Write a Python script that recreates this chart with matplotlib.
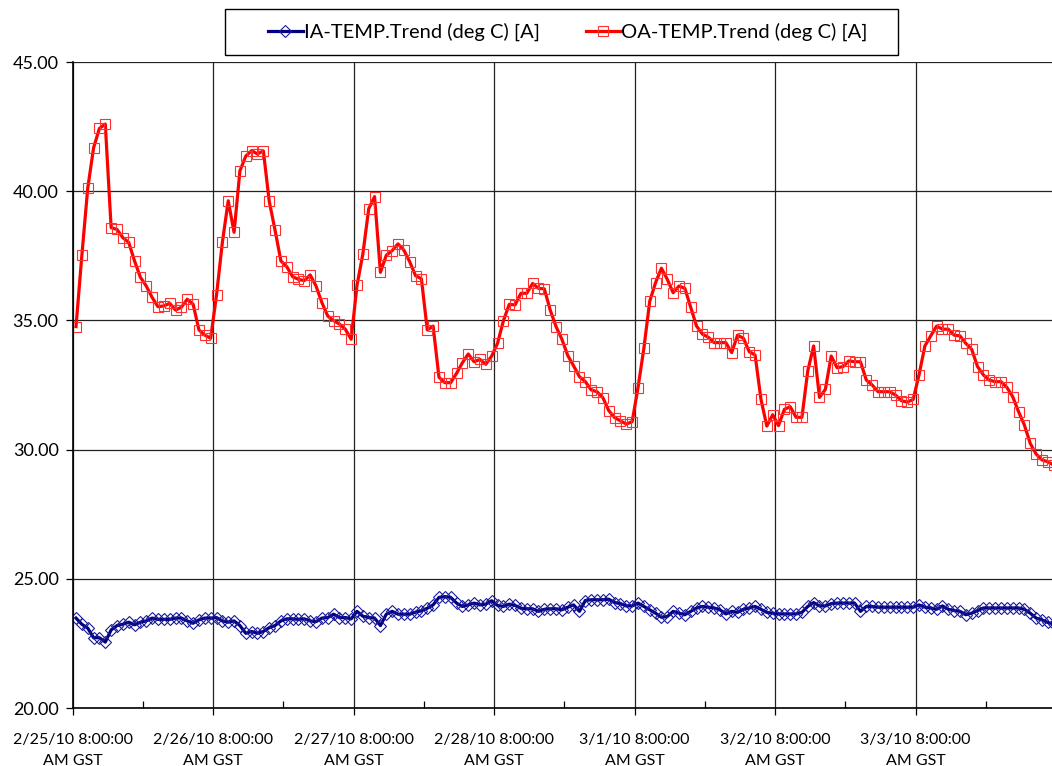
import matplotlib
matplotlib.use("Agg")
import matplotlib.pyplot as plt
import pandas as pd
from matplotlib.patches import Rectangle

# hourly readings, first sample at 2/25/10 8:36 AM
start_time = "2010-02-25 08:36"

ia_temp = [
    23.48, 23.24, 23.09, 22.72, 22.72, 22.55, 23.02, 23.19, 23.24, 23.32, 23.22, 23.32,
    23.37, 23.48, 23.43, 23.43, 23.43, 23.48, 23.48, 23.37, 23.28, 23.41, 23.48, 23.48,
    23.50, 23.37, 23.32, 23.37, 23.19, 22.89, 22.96, 22.89, 22.96, 23.11, 23.19, 23.37,
    23.45, 23.45, 23.43, 23.45, 23.37, 23.34, 23.48, 23.50, 23.63, 23.50, 23.50, 23.45,
    23.74, 23.55, 23.50, 23.48, 23.19, 23.63, 23.74, 23.63, 23.63, 23.63, 23.71, 23.76,
    23.86, 23.99, 24.28, 24.31, 24.28, 24.06, 23.93, 23.99, 24.06, 23.99, 24.02, 24.15,
    23.97, 23.93, 24.02, 23.97, 23.86, 23.84, 23.84, 23.74, 23.82, 23.84, 23.84, 23.80,
    23.90, 23.99, 23.74, 24.16, 24.19, 24.19, 24.19, 24.21, 24.08, 24.04, 23.95, 23.95,
    24.06, 23.93, 23.80, 23.67, 23.51, 23.54, 23.74, 23.67, 23.61, 23.74, 23.87, 23.93,
    23.90, 23.87, 23.80, 23.64, 23.74, 23.70, 23.82, 23.87, 23.93, 23.82, 23.70, 23.67,
    23.64, 23.64, 23.64, 23.64, 23.70, 23.93, 24.08, 23.95, 23.95, 24.04, 24.06, 24.06,
    24.06, 24.06, 23.74, 23.93, 23.93, 23.90, 23.90, 23.90, 23.90, 23.90, 23.90, 23.90,
    23.99, 23.90, 23.87, 23.82, 23.95, 23.82, 23.77, 23.74, 23.61, 23.67, 23.77, 23.87,
    23.87, 23.87, 23.87, 23.87, 23.87, 23.87, 23.82, 23.67, 23.48, 23.41, 23.31, 23.25,
]

oa_temp = [
    34.76, 37.52, 40.11, 41.68, 42.43, 42.60, 38.59, 38.52, 38.20, 38.02, 37.30, 36.67,
    36.33, 35.89, 35.53, 35.56, 35.66, 35.40, 35.51, 35.82, 35.63, 34.63, 34.43, 34.31,
    35.98, 38.02, 39.63, 38.41, 40.79, 41.36, 41.57, 41.44, 41.56, 39.62, 38.49, 37.30,
    37.08, 36.69, 36.59, 36.54, 36.76, 36.33, 35.69, 35.17, 34.99, 34.86, 34.66, 34.27,
    36.36, 37.57, 39.32, 39.79, 36.86, 37.52, 37.70, 37.96, 37.72, 37.27, 36.73, 36.61,
    34.63, 34.78, 32.80, 32.59, 32.59, 32.95, 33.36, 33.70, 33.40, 33.49, 33.30, 33.62,
    34.11, 34.98, 35.62, 35.60, 36.05, 36.05, 36.43, 36.24, 36.22, 35.40, 34.76, 34.27,
    33.64, 33.24, 32.82, 32.63, 32.31, 32.24, 32.01, 31.51, 31.24, 31.11, 30.99, 31.08,
    32.40, 33.92, 35.74, 36.46, 37.02, 36.59, 36.07, 36.33, 36.24, 35.51, 34.78, 34.47,
    34.35, 34.14, 34.14, 34.14, 33.75, 34.43, 34.31, 33.79, 33.66, 31.95, 30.91, 31.35,
    30.93, 31.56, 31.66, 31.25, 31.25, 33.05, 34.01, 32.02, 32.33, 33.62, 33.17, 33.21,
    33.43, 33.40, 33.40, 32.69, 32.50, 32.24, 32.24, 32.24, 32.11, 31.89, 31.84, 31.94,
    32.89, 34.01, 34.40, 34.78, 34.66, 34.66, 34.43, 34.40, 34.11, 33.88, 33.21, 32.89,
    32.69, 32.63, 32.63, 32.41, 32.05, 31.47, 30.95, 30.24, 29.83, 29.60, 29.53, 29.40,
]

tick_labels = [
    "2/25/10 8:00:00\nAM GST", "2/26/10 8:00:00\nAM GST", "2/27/10 8:00:00\nAM GST",
    "2/28/10 8:00:00\nAM GST", "3/1/10 8:00:00\nAM GST", "3/2/10 8:00:00\nAM GST",
    "3/3/10 8:00:00\nAM GST",
]
y_ticks = [20, 25, 30, 35, 40, 45]
series_names = ["IA-TEMP.Trend (deg C) [A]", "OA-TEMP.Trend (deg C) [A]"]

plt.rcParams['font.family'] = ['Lato', 'DejaVu Sans']
plt.rcParams['font.size'] = 11

W, H = 1052, 766
times = pd.date_range(start_time, periods=len(oa_temp), freq="h")
day_ticks = pd.date_range("2010-02-25 08:00", periods=len(tick_labels), freq="D")
half_ticks = pd.date_range("2010-02-25 20:00", periods=7, freq="D")

fig = plt.figure(figsize=(W / 100, H / 100), dpi=100)
ax = fig.add_axes([72.5 / W, 58 / H, (1056 - 72.5) / W, 646 / H])

ax.plot(times, ia_temp, color="#000080", lw=2.3, marker="D", ms=6.5,
        mfc="none", mec="#1a1a9a", mew=0.8, label=series_names[0])
ax.plot(times, oa_temp, color="#ff0000", lw=2.3, marker="s", ms=7.2,
        mfc="none", mec="#ff3030", mew=0.8, label=series_names[1])

ax.set_ylim(20, 45)
ax.set_yticks(y_ticks)
ax.set_yticklabels(["%.2f" % v for v in y_ticks], fontsize=13)
ax.set_xlim(pd.Timestamp("2010-02-25 08:00"), pd.Timestamp("2010-03-04 08:00"))
ax.set_xticks(day_ticks)
ax.set_xticklabels(tick_labels, linespacing=1.6, fontsize=11.5)
ax.set_xticks(half_ticks, minor=True)

ax.grid(True, which="major", color="#222222", lw=0.9)
ax.tick_params(axis="x", which="major", direction="out", length=5, width=0.9, pad=13)
ax.tick_params(axis="x", which="minor", direction="in", length=5, width=0.9)
ax.tick_params(axis="y", direction="out", length=5, width=0.9, pad=5)
for side in ["top", "right"]:
    ax.spines[side].set_visible(False)
for side in ["left", "bottom"]:
    ax.spines[side].set_color("black")
    ax.spines[side].set_linewidth(1.2)

# legend above the plot, with an Excel-like box drawn around it
fig.legend(loc="center", bbox_to_anchor=(568 / W, 1 - 32 / H), ncol=2,
           frameon=False, handlelength=1.7, handletextpad=0.05,
           columnspacing=2.3, fontsize=14.5)
fig.patches.append(Rectangle((225 / W, 1 - 55 / H), (898 - 225) / W, 46 / H,
                             transform=fig.transFigure, fill=False,
                             edgecolor="black", lw=1.0))

fig.savefig("out.png", dpi=100)
